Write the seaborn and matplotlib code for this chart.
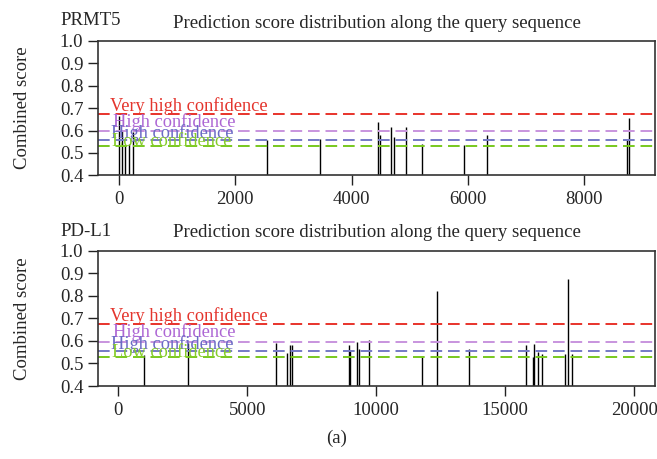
import matplotlib
matplotlib.use("Agg")
import matplotlib.pyplot as plt
import seaborn as sns

# PRMT5 predicted sites (position, combined score)
prmt5_pos = [0, 52, 108, 172, 236, 2540, 3457, 4460, 4489, 4684, 4725,
             4936, 5206, 5934, 6324, 8738, 8767]
prmt5_score = [0.664, 0.600, 0.535, 0.542, 0.594, 0.557, 0.564, 0.637, 0.582,
               0.615, 0.569, 0.615, 0.539, 0.534, 0.578, 0.557, 0.658]

# PD-L1 predicted sites
pdl1_pos = [1008, 2713, 6113, 6550, 6655, 6733, 8930, 8992, 9240, 9318, 9706,
            11783, 12341, 13593, 15803, 16074, 16124, 16256, 16423, 17326,
            17430, 17586]
pdl1_score = [0.537, 0.592, 0.592, 0.545, 0.582, 0.582, 0.580, 0.560, 0.597,
              0.563, 0.604, 0.534, 0.821, 0.566, 0.580, 0.530, 0.588, 0.551,
              0.541, 0.541, 0.876, 0.541]

# confidence thresholds
thr_labels = ["Very high confidence", "High confidence", "High confidence", "Low confidence"]
thr_values = [0.673, 0.597, 0.557, 0.529]
thr_line_colors = ["#e8332b", "#c894de", "#7479c6", "#78c81e"]
thr_text_colors = ["#e4352d", "#ad66d4", "#6b6bc4", "#86cc2a"]

yticks = [0.4, 0.5, 0.6, 0.7, 0.8, 0.9, 1.0]

sns.set_style("ticks")
plt.rcParams['font.family'] = ['Liberation Serif', 'DejaVu Serif']

fig = plt.figure(figsize=(6.57, 4.59), dpi=100)
ax1 = fig.add_axes([0.149, 0.618, 0.848, 0.293])
ax2 = fig.add_axes([0.149, 0.159, 0.848, 0.295])

panels = [
    (ax1, "PRMT5", prmt5_pos, prmt5_score, (-361, 9218), [0, 2000, 4000, 6000, 8000], 0.9455),
    (ax2, "PD-L1", pdl1_pos, pdl1_score, (-787, 20800), [0, 5000, 10000, 15000, 20000], 0.4865),
]

# label placement (axes-fraction x, baseline offset above the line)
lab_x = [0.0215, 0.0275, 0.0228, 0.0246]
lab_dy = [0.013, 0.018, 0.008, 0.001]

for ax, name, pos, score, xlim, xticks, ytitle in panels:
    ax.vlines(pos, 0.4, score, color="black", linewidth=1.0)
    for val, lc in zip(thr_values, thr_line_colors):
        ax.axhline(val, color=lc, linestyle=(0, (6, 3)), linewidth=1.4)
    for lab, val, tc, lx, dy in zip(thr_labels, thr_values, thr_text_colors, lab_x, lab_dy):
        ax.text(lx, val + dy, lab, color=tc, fontsize=13.2,
                transform=ax.get_yaxis_transform(), ha="left", va="baseline")
    ax.set_xlim(*xlim)
    ax.set_ylim(0.4, 1.0)
    ax.set_yticks(yticks)
    ax.set_xticks(xticks)
    ax.set_xticklabels([str(t) for t in xticks])
    ax.set_yticklabels([f"{t:.1f}" for t in yticks])
    ax.tick_params(axis="both", labelsize=13.5, length=7.5, width=1.0, color="#222222")
    ax.tick_params(axis="y", pad=3)
    ax.tick_params(axis="x", pad=4)
    for sp in ax.spines.values():
        sp.set_linewidth(1.2)
        sp.set_color("#333333")
    ax.set_ylabel("Combined score", fontsize=13.5, labelpad=21)
    ax.set_title("Prediction score distribution along the query sequence", fontsize=13.5, pad=9.5)
    fig.text(0.092, ytitle, name, fontsize=13.5, ha="left", va="baseline")

fig.text(0.513, 0.035, "(a)", fontsize=13.5, ha="center", va="baseline")

fig.savefig("out.png", dpi=100)
